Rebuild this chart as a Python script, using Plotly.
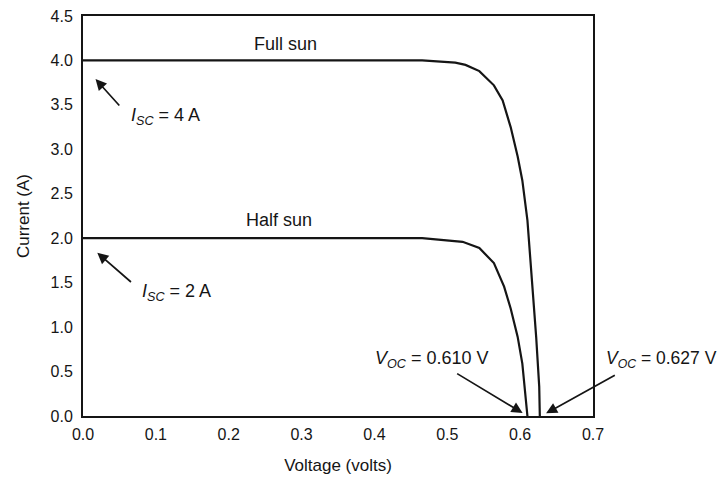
import plotly.graph_objects as go

# Full sun I-V curve (voltage in V, current in A)
full_v = [0.0, 0.30, 0.4655, 0.511, 0.525, 0.544, 0.564, 0.576, 0.587, 0.5966, 0.603, 0.610, 0.617, 0.622, 0.6262, 0.627]
full_i = [4.0, 4.0, 4.0, 3.975, 3.95, 3.88, 3.72, 3.55, 3.25, 2.92, 2.65, 2.20, 1.455, 0.89, 0.33, 0.0]

# Half sun I-V curve
half_v = [0.0, 0.30, 0.4655, 0.521, 0.544, 0.564, 0.578, 0.587, 0.5966, 0.603, 0.608, 0.610]
half_i = [2.0, 2.0, 2.0, 1.96, 1.89, 1.72, 1.455, 1.21, 0.89, 0.59, 0.22, 0.0]

x_ticks = [0.0, 0.1, 0.2, 0.3, 0.4, 0.5, 0.6, 0.7]
y_ticks = [0.0, 0.5, 1.0, 1.5, 2.0, 2.5, 3.0, 3.5, 4.0, 4.5]

FONT = "Liberation Sans, Arial, sans-serif"
INK = "#151515"

fig = go.Figure()
fig.add_trace(go.Scatter(x=full_v, y=full_i, mode="lines",
                         line=dict(color=INK, width=2.2), showlegend=False, hoverinfo="skip"))
fig.add_trace(go.Scatter(x=half_v, y=half_i, mode="lines",
                         line=dict(color=INK, width=2.2), showlegend=False, hoverinfo="skip"))

txt = dict(size=18, color=INK, family=FONT)

annotations = [
    dict(x=0.2775, y=4.19, xref="x", yref="y", text="Full sun", showarrow=False, font=txt),
    dict(x=0.269, y=2.20, xref="x", yref="y", text="Half sun", showarrow=False, font=txt),
    dict(x=0.063, y=3.375, xref="x", yref="y", text="<i>I<sub>SC</sub></i> = 4 A", showarrow=False,
         xanchor="left", font=txt),
    dict(x=0.078, y=1.395, xref="x", yref="y", text="<i>I<sub>SC</sub></i> = 2 A", showarrow=False,
         xanchor="left", font=txt),
    dict(x=0.559, y=0.64, xref="x", yref="y", text="<i>V<sub>OC</sub></i> = 0.610 V", showarrow=False,
         xanchor="right", font=txt),
    dict(x=1.022, y=0.64, xref="paper", yref="y", text="<i>V<sub>OC</sub></i> = 0.627 V", showarrow=False,
         xanchor="left", font=dict(size=17.5, color=INK, family=FONT)),
]

arrows = [
    ((0.0172, 3.79), (0.0517, 3.476)),
    ((0.0196, 1.837), (0.0679, 1.493)),
    ((0.6034, 0.034), (0.5115, 0.487)),
    ((0.6356, 0.030), (0.732, 0.467)),
]
for (hx, hy), (tx, ty) in arrows:
    annotations.append(dict(x=hx, y=hy, ax=tx, ay=ty, xref="x", yref="y", axref="x", ayref="y",
                            text="", showarrow=True, arrowhead=2, arrowsize=1.3, arrowwidth=1.7,
                            arrowcolor=INK))

fig.update_layout(
    width=725, height=477,
    margin=dict(l=83, r=132, t=16, b=61, autoexpand=False),
    paper_bgcolor="white", plot_bgcolor="white",
    font=dict(family=FONT, size=16, color=INK),
    annotations=annotations,
    xaxis=dict(range=[0, 0.7], tickvals=x_ticks, ticktext=[f"{v:.1f}" for v in x_ticks],
               showgrid=False, zeroline=False, showline=True, linecolor=INK, linewidth=2,
               mirror=True, ticks="", ticklabelstandoff=3, automargin=False,
               ticklabeloverflow="allow", tickfont=dict(size=16),
               title=dict(text="Voltage (volts)", standoff=17, font=dict(size=17))),
    yaxis=dict(range=[0, 4.5], tickvals=y_ticks, ticktext=[f"{v:.1f}" for v in y_ticks],
               showgrid=False, zeroline=False, showline=True, linecolor=INK, linewidth=2,
               mirror=True, ticks="", ticklabelstandoff=5, automargin=False,
               ticklabeloverflow="allow", tickfont=dict(size=16),
               title=dict(text="Current (A)", standoff=17, font=dict(size=17))),
)

# remove the browser's default 8px page margin so the 725x477 figure fills the window
fig.write_html("out.html", config={"displayModeBar": False},
               post_script="document.body.style.margin='0';")
